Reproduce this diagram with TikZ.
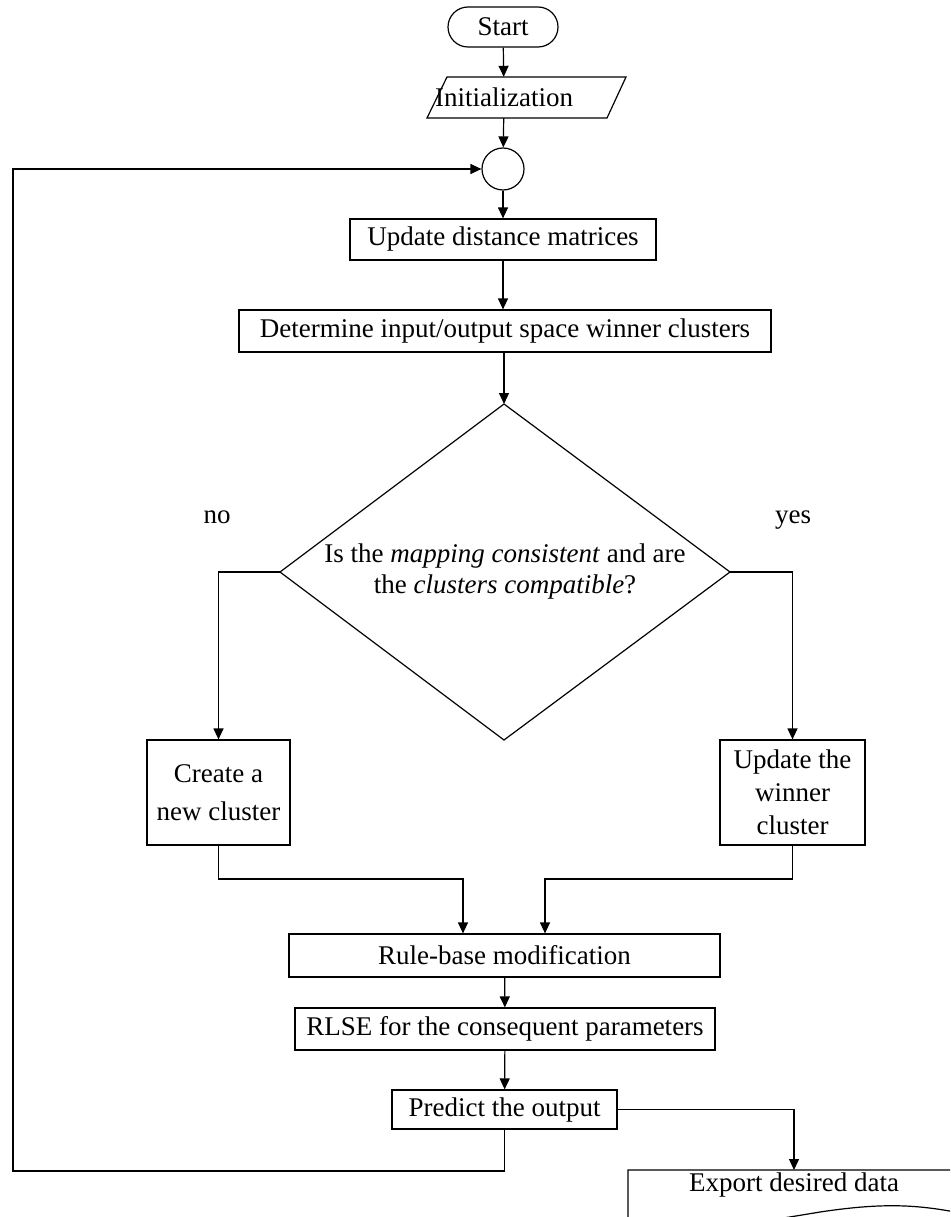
\documentclass[tikz,border=0pt]{standalone}
\usepackage{fontspec}
\setmainfont{Liberation Serif}
\usetikzlibrary{arrows.meta,calc}
\newcommand\flowsize{\fontsize{27}{33}\selectfont}
\begin{document}
\begin{tikzpicture}[x=1pt,y=-1pt,
  line/.style={line width=1.2pt},
  arr/.style={line,-{Triangle[length=11pt,width=10pt]}},
  box/.style={draw,line,rectangle,inner sep=0pt,align=center,font=\flowsize},
  lbl/.style={inner sep=0pt,font=\flowsize}]
\useasboundingbox (0,0) rectangle (950,1217);

% terminator and input
\node[box,rounded corners=20pt,minimum width=110pt,minimum height=40pt] (start) at (503,27) {Start};
\node[lbl,minimum height=41pt] (init) at (504,97.5) {Initialization};
\draw[line] (427,118) -- (447,77) -- (626,77) -- (607,118) -- cycle;

% loop junction
\node[draw,line,circle,minimum size=42pt,inner sep=0pt] (join) at (503,169) {};

% processing steps
\node[box,minimum width=306pt,minimum height=41pt] (upd) at (503,239.5) {Update distance matrices};
\node[box,minimum width=532pt,minimum height=42pt] (det) at (505,331) {Determine input/output space winner clusters};

% decision: diamond outline with its question inside
\coordinate (dtop) at (504,404);
\coordinate (dleft) at (280,572);
\coordinate (dright) at (730,572);
\coordinate (dbot) at (504,740);
\draw[line] (dtop) -- (dright) -- (dbot) -- (dleft) -- cycle;
\node[inner sep=0pt,align=center,font=\fontsize{27}{31}\selectfont] (dec) at (505,572)
  {Is the \emph{mapping consistent} and are\\the \emph{clusters compatible}?};
\node[lbl,anchor=base] (no) at (217,523) {no};
\node[lbl,anchor=base] (yes) at (793,523) {yes};

% branches
\node[box,minimum width=143pt,minimum height=105pt,font=\fontsize{27}{38}\selectfont] (create) at (218.5,792.5) {Create a\\new cluster};
\node[box,minimum width=145pt,minimum height=105pt] (win) at (792.5,792.5) {Update the\\winner\\cluster};

\node[box,minimum width=431pt,minimum height=43pt] (rule) at (504.5,955.5) {Rule-base modification};
\node[box,minimum width=420pt,minimum height=42pt] (rlse) at (505,1029) {RLSE for the consequent parameters};
\node[box,minimum width=225pt,minimum height=39pt] (pred) at (504.5,1109.5) {Predict the output};

% output document with a wavy lower edge
\node[lbl,minimum width=332pt,minimum height=30pt,anchor=north] (export) at (794,1170) {Export desired data};
\begin{scope}
  \clip (0,0) rectangle (950,1217);
  \draw[line] (628,1170) -- (960,1170) -- (960,1213)
    .. controls (915,1204) and (880,1203) .. (820,1212)
    .. controls (760,1222) and (700,1232) .. (628,1230) -- cycle;
\end{scope}

% helper points for the routed connectors
\coordinate (cl) at (463,879);
\coordinate (cr) at (545,879);
\coordinate (loopL) at (13,1171);

% connectors
\draw[arr] (start) -- (init);
\draw[arr] (init) -- (join);
\draw[arr] (join) -- (upd);
\draw[arr] (upd) -- (upd |- det.north);
\draw[arr] (det.south -| dtop) -- (dtop);
\draw[arr] (dleft) -| (create.north);
\draw[arr] (dright) -| (win.north);
\draw[arr] (create.south) |- (cl) -- (cl |- rule.north);
\draw[arr] (win.south) |- (cr) -- (cr |- rule.north);
\draw[arr] (rule) -- (rlse);
\draw[arr] (rlse) -- (pred);
\draw[arr] (pred.east) -| (export.north);
\draw[arr] (pred.south) |- (loopL) |- (join.west);
\end{tikzpicture}
\end{document}
